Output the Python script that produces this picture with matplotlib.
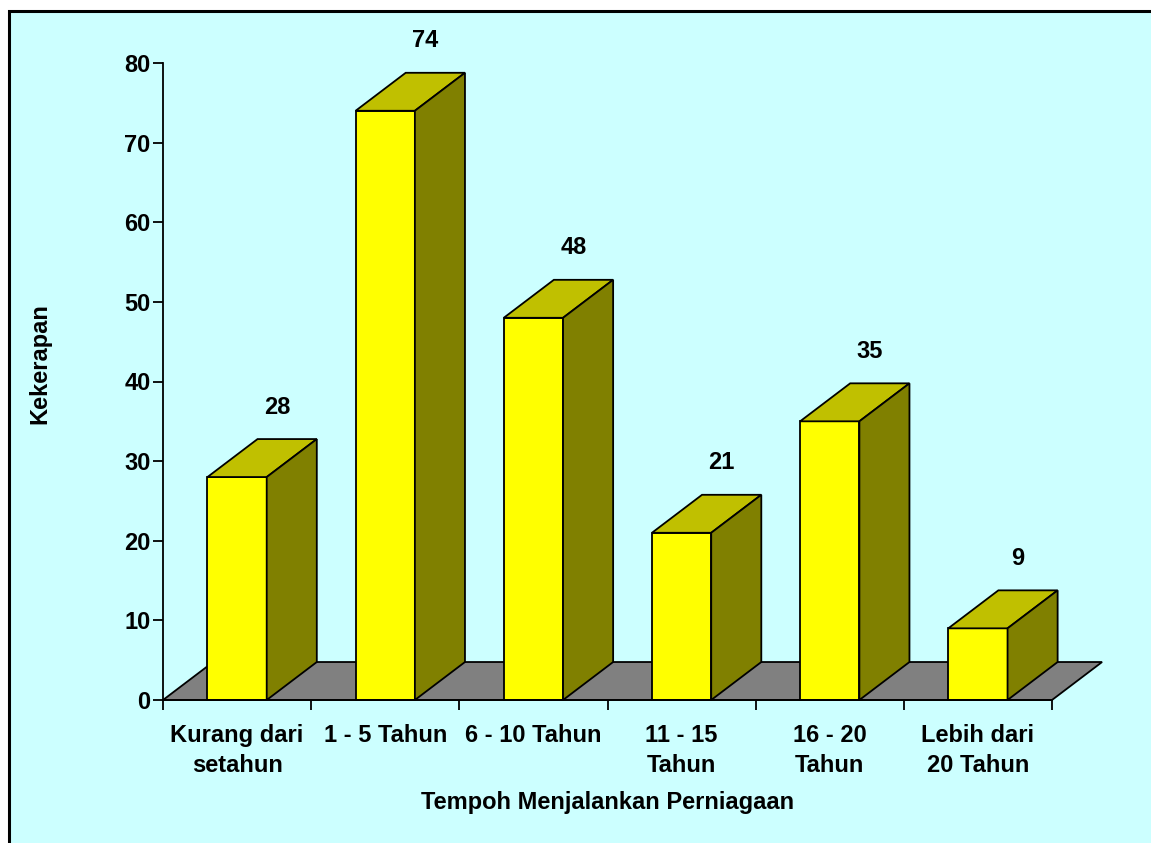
import matplotlib.pyplot as plt
from matplotlib.patches import Polygon, Rectangle

# data
categories = ['Kurang dari\nsetahun', '1 - 5 Tahun', '6 - 10 Tahun',
              '11 - 15\nTahun', '16 - 20\nTahun', 'Lebih dari\n20 Tahun']
counts = [28, 74, 48, 21, 35, 9]
y_ticks = [0, 10, 20, 30, 40, 50, 60, 70, 80]

plt.rcParams['font.family'] = ['Liberation Sans', 'DejaVu Sans']
plt.rcParams['font.weight'] = 'bold'
FS = 17

W, H = 1151, 843
fig = plt.figure(figsize=(W / 100, H / 100), dpi=100)
fig.patch.set_facecolor('white')

# chart area background with border (top/left visible)
fig.patches.append(Rectangle((8.5 / W, -0.02), 1.0, 1 - 10.5 / H + 0.02,
                             transform=fig.transFigure, facecolor='#CCFFFF',
                             edgecolor='black', lw=2.2, zorder=-5))

ax = fig.add_axes([163 / W, 1 - 700 / H, (1052 - 163) / W, (700 - 63) / H])
ax.set_facecolor('none')
ax.set_xlim(0, len(counts))
ax.set_ylim(0, 80)

# 3d depth offset (data units)
dx, dy = 0.338, 4.77
bw = 0.4

# floor
n = len(counts)
ax.add_patch(Polygon([(0, 0), (n, 0), (n + dx, dy), (dx, dy)], closed=True,
                     facecolor='#808080', edgecolor='black', lw=1.3,
                     clip_on=False, zorder=1))

for i, v in enumerate(counts):
    x0 = i + 0.5 - bw / 2
    x1 = i + 0.5 + bw / 2
    kw = dict(closed=True, edgecolor='black', lw=1.3, clip_on=False,
              zorder=2, joinstyle='miter')
    ax.add_patch(Polygon([(x0, 0), (x1, 0), (x1, v), (x0, v)],
                         facecolor='#FFFF00', **kw))
    ax.add_patch(Polygon([(x0, v), (x1, v), (x1 + dx, v + dy), (x0 + dx, v + dy)],
                         facecolor='#C0C000', **kw))
    ax.add_patch(Polygon([(x1, 0), (x1 + dx, dy), (x1 + dx, v + dy), (x1, v)],
                         facecolor='#808000', **kw))
    ax.text(i + 0.5 + dx / 2 + 0.1, v + dy + 4, str(v), ha='center',
            va='center', fontsize=FS, fontweight='bold')

for side in ['top', 'right']:
    ax.spines[side].set_visible(False)
ax.spines['left'].set_linewidth(1.3)
ax.spines['bottom'].set_linewidth(1.3)
ax.spines['bottom'].set_zorder(3)

ax.set_yticks(y_ticks)
ax.tick_params(axis='y', direction='out', length=7, width=1.3,
               labelsize=FS, pad=2)
ax.set_xticks(range(n + 1))
ax.set_xticklabels([])
ax.set_xticks([i + 0.5 for i in range(n)], minor=True)
ax.set_xticklabels(categories, minor=True, fontsize=FS, linespacing=1.4)
ax.tick_params(axis='x', which='major', direction='out', length=7, width=1.3)
ax.tick_params(axis='x', which='minor', length=0, pad=17)

fig.text(608 / W, 1 - 803 / H, 'Tempoh Menjalankan Perniagaan',
         ha='center', va='center', fontsize=FS, fontweight='bold')
fig.text(40 / W, 1 - 364 / H, 'Kekerapan', ha='center', va='center',
         rotation=90, fontsize=FS, fontweight='bold')

fig.savefig('out.png', dpi=100)
